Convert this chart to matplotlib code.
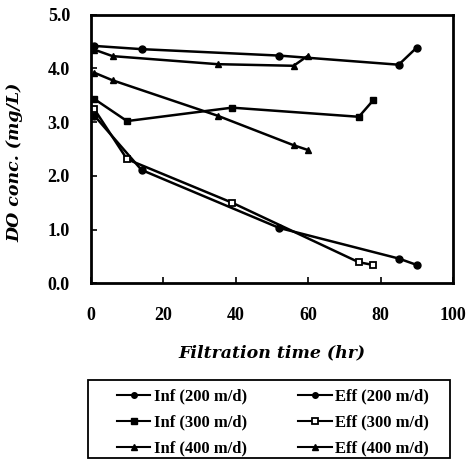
import matplotlib
matplotlib.use('Agg')
import matplotlib.pyplot as plt
import matplotlib.patches as patches

plt.rcParams['font.family'] = ['Liberation Serif', 'DejaVu Serif']
plt.rcParams['font.weight'] = 'bold'

# Influent series
inf200_t = [1, 14, 52, 85, 90]
inf200_do = [4.42, 4.36, 4.24, 4.07, 4.39]
inf300_t = [1, 10, 39, 74, 78]
inf300_do = [3.43, 3.02, 3.27, 3.10, 3.41]
inf400_t = [1, 6, 35, 56, 60]
inf400_do = [4.35, 4.23, 4.08, 4.05, 4.24]

# Effluent series
eff200_t = [1, 14, 52, 85, 90]
eff200_do = [3.12, 2.11, 1.03, 0.46, 0.34]
eff300_t = [1, 10, 39, 74, 78]
eff300_do = [3.24, 2.31, 1.50, 0.39, 0.34]
eff400_t = [1, 6, 35, 56, 60]
eff400_do = [3.92, 3.78, 3.12, 2.57, 2.48]

fig = plt.figure(figsize=(4.68, 4.62), dpi=100)
ax = fig.add_axes([0.194, 0.387, 0.774, 0.581])

lw = 1.8
ms = 5
l1, = ax.plot(inf200_t, inf200_do, '-o', color='black', lw=lw, ms=ms)
l2, = ax.plot(inf300_t, inf300_do, '-s', color='black', lw=lw, ms=ms)
l3, = ax.plot(inf400_t, inf400_do, '-^', color='black', lw=lw, ms=ms)
l4, = ax.plot(eff200_t, eff200_do, '-o', color='black', lw=lw, ms=ms)
l5, = ax.plot(eff300_t, eff300_do, '-s', color='black', lw=lw, ms=ms,
              markerfacecolor='white', markeredgewidth=1.3)
l6, = ax.plot(eff400_t, eff400_do, '-^', color='black', lw=lw, ms=ms)

ax.set_xlim(0, 100)
ax.set_ylim(0, 5)
ax.set_xticks([0, 20, 40, 60, 80, 100])
ax.set_yticks([0, 1, 2, 3, 4, 5])
ax.set_yticklabels(['0.0', '1.0', '2.0', '3.0', '4.0', '5.0'])
ax.tick_params(direction='in', length=4, width=1.2, labelsize=13)
ax.tick_params(axis='x', pad=17)
ax.tick_params(axis='y', pad=15)
for s in ax.spines.values():
    s.set_linewidth(2)

ax.set_xlabel('Filtration time (hr)', fontsize=12.5, fontstyle='italic',
              fontweight='bold', family='DejaVu Serif', labelpad=15)
ax.set_ylabel('DO conc. (mg/L)', fontsize=12.5, fontstyle='italic',
              fontweight='bold', family='DejaVu Serif')
ax.yaxis.set_label_coords(-0.185, 0.45)

labels = ['Inf (200 m/d)', 'Inf (300 m/d)', 'Inf (400 m/d)',
          'Eff (200 m/d)', 'Eff (300 m/d)', 'Eff (400 m/d)']
leg = fig.legend([l1, l2, l3, l4, l5, l6], labels, ncol=2,
                 loc='upper left', bbox_to_anchor=(0.232, 0.177),
                 fontsize=12, frameon=False, markerscale=0.8,
                 handlelength=2.0, handletextpad=0.2,
                 columnspacing=3.1, labelspacing=0.6, borderpad=0.0)
for h in leg.legend_handles:
    h.set_linewidth(1.5)

# legend box
box = patches.Rectangle((88 / 468, 1 - 458 / 462), (450 - 88) / 468,
                        (458 - 380) / 462, transform=fig.transFigure,
                        fill=False, edgecolor='black', linewidth=1.3)
fig.patches.append(box)

fig.savefig('out.png', dpi=100)
